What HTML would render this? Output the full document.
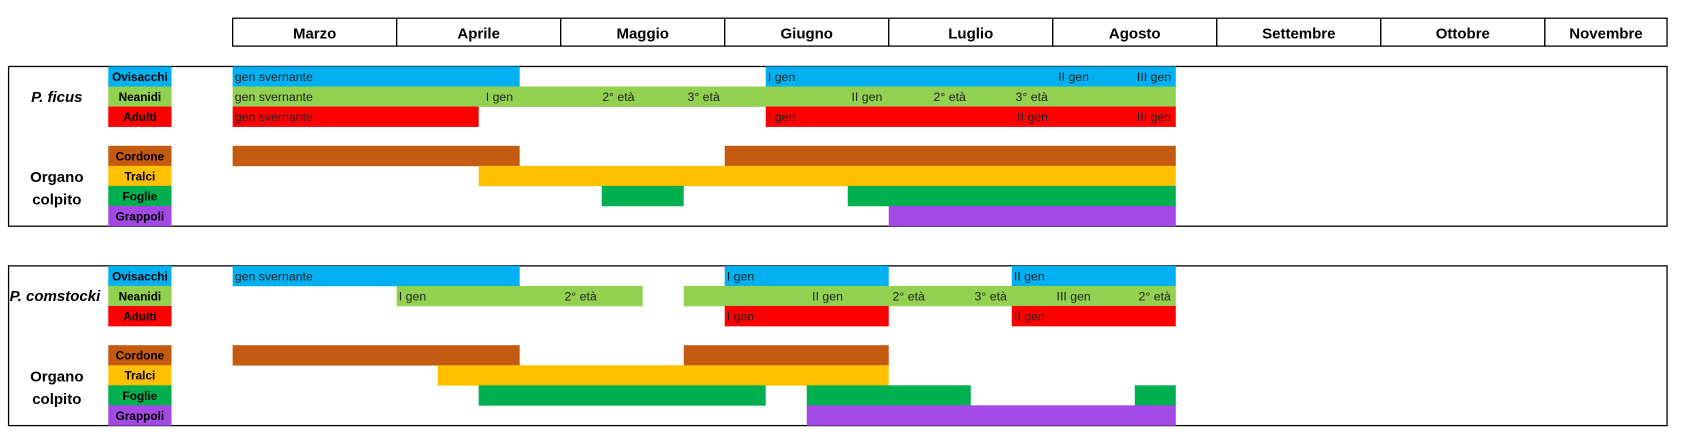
<!DOCTYPE html>
<html><head><meta charset="utf-8"><style>
html,body{margin:0;padding:0;background:#fff;overflow:hidden}
svg{display:block;font-family:"Liberation Sans",sans-serif}
</style></head><body>
<svg id="chart" width="1681" height="439" viewBox="0 0 1568 409.5" preserveAspectRatio="none" xmlns="http://www.w3.org/2000/svg"></svg>
<script>
const months = ["Marzo","Aprile","Maggio","Giugno","Luglio","Agosto","Settembre","Ottobre","Novembre"];
const rowNames = ["Ovisacchi","Neanidi","Adulti","Cordone","Tralci","Foglie","Grappoli"];
const rowColors = ["#00B0F0","#92D050","#FF0000","#C55A11","#FFC000","#00B050","#A349E6"];
// bars: [row, startMonth, endMonth] (months from 1 March)
const ficusBars = [[0,0,1.75],[0,3.25,5.75],[1,0,5.75],[2,0,1.5],[2,3.25,5.75],
  [3,0,1.75],[3,3,5.75],[4,1.5,5.75],[5,2.25,2.75],[5,3.75,5.75],[6,4,5.75]];
const ficusLabels = [[0,0,"gen svernante"],[0,3.25,"I gen"],[0,5.02,"II gen"],[0,5.5,"III gen"],
  [1,0,"gen svernante"],[1,1.53,"I gen"],[1,2.24,"2° età"],[1,2.76,"3° età"],[1,3.76,"II gen"],[1,4.26,"2° età"],[1,4.76,"3° età"],
  [2,0,"gen svernante"],[2,3.25,"I gen"],[2,4.77,"II gen"],[2,5.5,"III gen"]];
const comBars = [[0,0,1.75],[0,3,4],[0,4.75,5.75],[1,1,2.5],[1,2.75,5.75],[2,3,4],[2,4.75,5.75],
  [3,0,1.75],[3,2.75,4],[4,1.25,4],[5,1.5,3.25],[5,3.5,4.5],[5,5.5,5.75],[6,3.5,5.75]];
const comLabels = [[0,0,"gen svernante"],[0,3,"I gen"],[0,4.75,"II gen"],
  [1,1,"I gen"],[1,2.01,"2° età"],[1,3.52,"II gen"],[1,4.01,"2° età"],[1,4.51,"3° età"],[1,5.01,"III gen"],[1,5.51,"2° età"],
  [2,3,"I gen"],[2,4.75,"II gen"]];

const svg = document.getElementById('chart');
const NS = "http://www.w3.org/2000/svg";
const X0 = 217, MW = 153;
const xs = m => X0 + m*MW;
function mk(tag, attrs, parent){const e=document.createElementNS(NS,tag);for(const k in attrs)e.setAttribute(k,attrs[k]);(parent||svg).appendChild(e);return e;}

// header
const hdr = mk('g',{});


months.forEach((m,i)=>{
  const x = xs(i), w = i===8 ? 114 : MW;
  mk('rect',{x:x,y:17,width:w,height:26,fill:'#fff',stroke:'#000','stroke-width':1.2},hdr);
  const t = mk('text',{x:x+w/2,y:36,'text-anchor':'middle','font-size':14,'font-weight':'bold'},hdr);
  
  
  t.textContent = m;
});

function panel(top, bars, labels, species, name, speciesX, speciesAnchor){
  const g = mk('g',{});
  
  
  mk('rect',{x:8,y:top,width:1547,height:149,fill:'none',stroke:'#000','stroke-width':1.2},g);
  const rh = 18.7;
  const rowY = r => r<3 ? top + r*rh : top + 74 + (r-3)*rh;
  rowNames.forEach((n,r)=>{
    mk('rect',{x:101,y:rowY(r),width:59,height:rh+0.3,fill:rowColors[r]},g);
    const t = mk('text',{x:130.5,y:rowY(r)+13.5,'text-anchor':'middle','font-size':11,'font-weight':'bold',fill:'#000'},g);
    
    
    t.textContent = n;
  });
  bars.forEach(b=>{
    const rc = mk('rect',{x:xs(b[1]),y:rowY(b[0]),width:xs(b[2])-xs(b[1]),height:rh+0.3,fill:rowColors[b[0]]},g);
    
    
  });
  labels.forEach(l=>{
    const t = mk('text',{x:xs(l[1])+2,y:rowY(l[0])+13.5,'font-size':11.5,fill:'#222'},g);
    
    
    t.textContent = l[2];
  });
  const sp = mk('text',{x:speciesX,y:top+33,'text-anchor':speciesAnchor,'font-size':14,'font-weight':'bold','font-style':'italic'},g);
  
  
  sp.textContent = species;
  const o1 = mk('text',{x:53,y:top+108,'text-anchor':'middle','font-size':14,'font-weight':'bold'},g);
  
  
  o1.textContent = 'Organo';
  const o2 = mk('text',{x:53,y:top+129,'text-anchor':'middle','font-size':14,'font-weight':'bold'},g);
  
  
  o2.textContent = 'colpito';
}
panel(62, ficusBars, ficusLabels, 'P. ficus', 'panel-p-ficus', 53, 'middle');
panel(248, comBars, comLabels, 'P. comstocki', 'panel-p-comstocki', 9, 'start');
</script>
</body></html>
